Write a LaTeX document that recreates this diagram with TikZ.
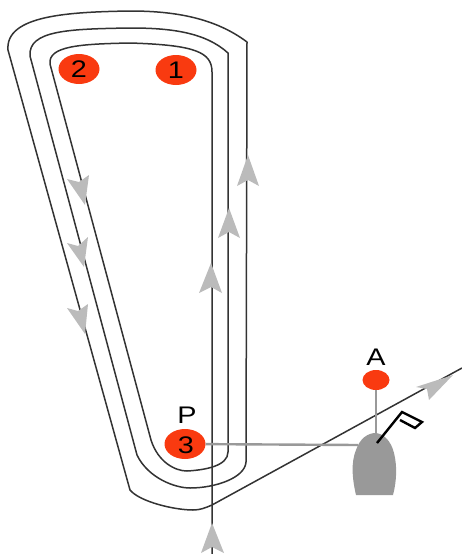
\documentclass[tikz,border=0pt]{standalone}
\usepackage{fontspec}
\setmainfont{Liberation Sans}
\definecolor{track}{HTML}{333333}
\definecolor{tipgray}{HTML}{BBBBBB}
\definecolor{mark}{HTML}{F93A10}
\definecolor{boat}{HTML}{999999}
\tikzset{
 trackline/.style={draw=track,line width=1.5pt,line join=round},
 tipshape/.style={fill=tipgray,draw=none},
 redmark/.style={ellipse,fill=mark,draw=none,inner sep=0pt},
 label/.style={inner sep=0pt,font=\fontsize{24}{24}\selectfont,xscale=1.2,text=black},
 guide/.style={draw=boat,line width=2.4pt},
 flagline/.style={draw=black,line width=2.4pt,line join=miter}
}
\usetikzlibrary{shapes.geometric}
\begin{document}
\begin{tikzpicture}[x=1pt,y=-1pt]
\useasboundingbox (0,0) rectangle (462,554);
% coordinates
\coordinate (s) at (212,554);
\coordinate (e) at (462,368);
\coordinate (bt) at (376,433);
\coordinate (bl) at (358,445);
% tracks
\path[trackline] (s) -- (212,72)
 .. controls (212,52) and (195,45) .. (130,43)
 .. controls (80,44) and (48,46) .. (50,64)
 -- (151,440)
 .. controls (158,462) and (175,471) .. (187,471)
 .. controls (205,470) and (228,466) .. (228,452)
 -- (228,53)
 .. controls (205,32) and (170,28) .. (130,28)
 .. controls (70,29) and (28,30) .. (30,56)
 -- (137,455)
 .. controls (148,478) and (175,488) .. (190,488)
 .. controls (215,488) and (245,478) .. (246,462)
 -- (247,42)
 .. controls (215,18) and (175,11) .. (130,11)
 .. controls (70,12) and (5,15) .. (8,50)
 -- (130,490)
 .. controls (140,502) and (175,510) .. (193,510)
 .. controls (200,510) and (205,508) .. (212,505)
 -- (e);
% arrowheads
\fill[tipshape] (85,205) -- (67,179) -- (79,182) -- (89,175) -- cycle;
\fill[tipshape] (84,267) -- (67,243) -- (78,246) -- (88,237) -- cycle;
\fill[tipshape] (85,334) -- (67,308) -- (78,311) -- (88,304) -- cycle;
\fill[tipshape] (211,263) -- (199,293) -- (211,287) -- (222,293) -- cycle;
\fill[tipshape] (229,208) -- (218,238) -- (229,232) -- (240,238) -- cycle;
\fill[tipshape] (248,155) -- (237,186) -- (248,180) -- (259,186) -- cycle;
\fill[tipshape] (212,523) -- (201,553) -- (212,547) -- (224,553) -- cycle;
\fill[tipshape] (453,375) -- (416,387) -- (427,389) -- (429,400) -- cycle;
% marks
\node[redmark,minimum width=41pt,minimum height=30pt] (m2) at (79,69) {};
\node[redmark,minimum width=41pt,minimum height=30pt] (m1) at (176,70) {};
\node[redmark,minimum width=41pt,minimum height=30pt] (m3) at (185,444) {};
\node[redmark,minimum width=27pt,minimum height=20pt] (mA) at (376,380) {};
\node[label] (t2) at (79,69) {2};
\node[label] (t1) at (176,70) {1};
\node[label] (t3) at (186,445) {3};
\node[label] (tP) at (187,415) {P};
\node[label] (tA) at (376,357) {A};
% guides and boat
\draw[guide] (m3) -- (bl);
\draw[guide] (mA) -- (bt);
\fill[boat] (356,495) .. controls (352,478) and (351,462) .. (356,450)
 .. controls (360,438) and (368,433) .. (376,433)
 .. controls (384,434) and (391,441) .. (394,453)
 .. controls (397,465) and (397,480) .. (393,495) -- cycle;
\draw[flagline] (377,443) -- (402,412) -- (422,422) -- (415,428) -- (400,420);
\end{tikzpicture}
\end{document}
